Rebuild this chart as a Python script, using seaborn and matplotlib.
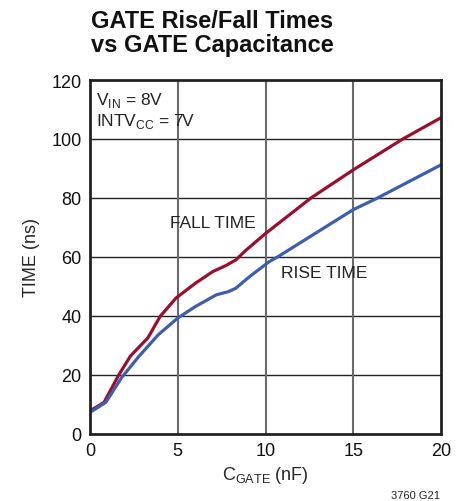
import matplotlib
matplotlib.use("Agg")
import matplotlib.pyplot as plt
import seaborn as sns
import pandas as pd

# Data
fall_x = [0.0, 0.8, 1.6, 2.3, 3.3, 4.0, 4.9, 6.0, 7.0, 7.7, 8.3, 8.9, 10.0, 12.6, 15.0, 17.8, 20.0]
fall_y = [7.7, 10.6, 19.5, 26.3, 32.5, 39.8, 46.0, 51.0, 55.0, 56.9, 58.9, 62.3, 67.9, 80.0, 89.5, 99.9, 107.2]
rise_x = [0.0, 0.9, 1.8, 2.8, 3.9, 5.0, 6.0, 7.2, 7.9, 8.3, 9.1, 10.2, 10.7, 15.0, 16.3, 20.0]
rise_y = [7.2, 10.6, 19.0, 26.3, 33.6, 39.2, 43.1, 47.1, 48.2, 49.3, 53.3, 58.3, 60.0, 76.0, 79.7, 91.2]
x_ticks = [0, 5, 10, 15, 20]
y_ticks = [0, 20, 40, 60, 80, 100, 120]

df = pd.concat([
    pd.DataFrame({"C": fall_x, "T": fall_y, "series": "FALL"}),
    pd.DataFrame({"C": rise_x, "T": rise_y, "series": "RISE"}),
])

sns.set_style("white")
FONT = ['Liberation Sans Narrow', 'Liberation Sans', 'DejaVu Sans']
plt.rcParams['font.family'] = FONT

fig = plt.figure(figsize=(4.71, 5.02), dpi=100)
ax = fig.add_axes([90/471, 1 - 434.6/502, (441 - 90)/471, (434.6 - 81)/502])

sns.lineplot(data=df, x="C", y="T", hue="series",
             palette={"FALL": "#9a0f2f", "RISE": "#3c5eb0"},
             linewidth=2.3, ax=ax, legend=False, sort=False)

ax.set_xlim(0, 20)
ax.set_ylim(0, 120)
ax.set_xticks(x_ticks)
ax.set_yticks(y_ticks)
ax.tick_params(axis='both', labelsize=13, length=0, pad=6, colors='#111111')

for y in y_ticks[1:-1]:
    ax.axhline(y, color='#222222', lw=1.0, zorder=0)
for x in x_ticks[1:-1]:
    ax.axvline(x, color='#6a6a6a', lw=1.5, zorder=0)

for s in ax.spines.values():
    s.set_visible(True)
    s.set_color('#222222')
    s.set_linewidth(2)

ax.set_xlabel(r"C$_{\mathregular{GATE}}$ (nF)", fontsize=13, labelpad=4)
ax.set_ylabel("TIME (ns)", fontsize=13, labelpad=8)

ax.text(0.35, 116.5, r"V$_{\mathregular{IN}}$ = 8V", fontsize=12.5, va='top', ha='left', color='#222222')
ax.text(0.35, 109.5, r"INTV$_{\mathregular{CC}}$ = 7V", fontsize=12.5, va='top', ha='left', color='#222222')
ax.text(4.55, 71.5, "FALL TIME", fontsize=12.5, va='center', ha='left', color='#222222')
ax.text(10.9, 54.8, "RISE TIME", fontsize=12.5, va='center', ha='left', color='#222222')

fig.text(91/471, 1 - 10/502, "GATE Rise/Fall Times\nvs GATE Capacitance",
         fontsize=17, fontweight='bold', va='top', ha='left', linespacing=1.05, color='#111111')
fig.text(440/471, 1 - 496/502, "3760 G21", fontsize=8, ha='right', va='center', color='#222222')

fig.savefig("out.png", dpi=100)
